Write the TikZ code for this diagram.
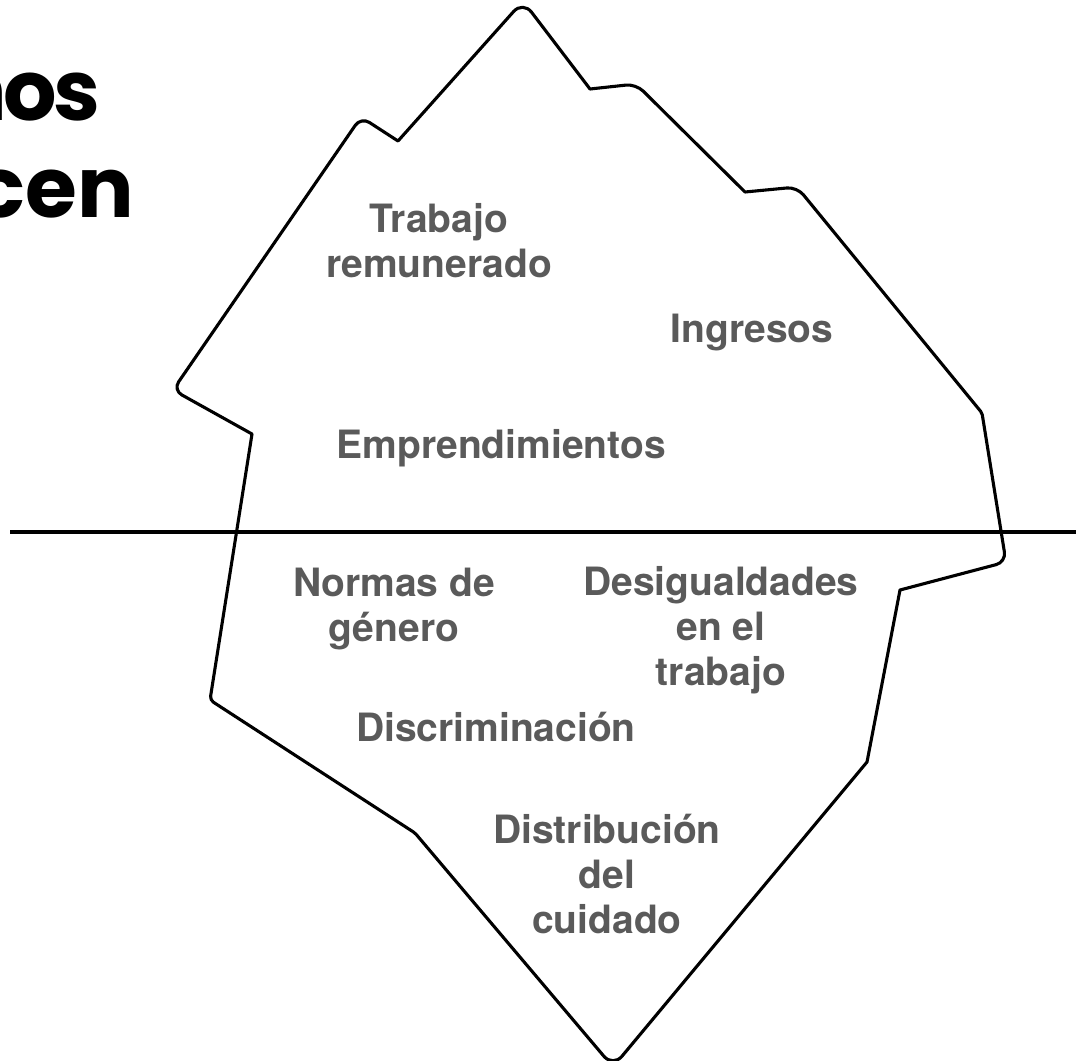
\documentclass[tikz,border=0pt]{standalone}
\usepackage{fontspec}
\setmainfont{TeX Gyre Heros}
\newfontfamily\titlefont{Poppins}
\definecolor{labelgray}{RGB}{90,90,90}
\tikzset{
  lbl/.style={font=\fontsize{39}{45}\selectfont\bfseries, text=labelgray, align=center, inner sep=0pt, anchor=base},
  ttl/.style={font=\titlefont\fontsize{84}{97}\selectfont\bfseries, text=black, inner sep=0pt, anchor=base east},
  berg/.style={draw=black, line width=3.1pt, line join=round},
  water/.style={draw=black, line width=3.3pt}
}
\begin{document}
\begin{tikzpicture}[x=1pt,y=-1pt]
\useasboundingbox (0,0) rectangle (1076,1060);
\clip (0,0) rectangle (1076,1060);
% title (cut off at the left edge)
\node[ttl] (t1) at (101,120) {n\kern-4pt o\kern-3pt s};
\node[ttl] (t2) at (134,217) {cen};
% iceberg outline
\draw[berg] (398,141)
  [rounded corners=14pt] -- (523,1)
  [sharp corners] -- (590,89)
  [rounded corners=10pt] -- (636,84)
  [sharp corners] -- (745,192)
  [rounded corners=10pt] -- (797,187)
  [rounded corners=2pt] -- (982,413)
  [rounded corners=10pt] -- (1006,562)
  [sharp corners] -- (900,590)
  -- (867,762)
  [rounded corners=14pt] -- (613,1067)
  [rounded corners=2pt] -- (415,833)
  [rounded corners=4pt] -- (210,700)
  [sharp corners] -- (252,434)
  [rounded corners=10pt] -- (173,390)
  -- (361,117)
  [sharp corners] -- cycle;
% water line
\coordinate (wl) at (10,532);
\coordinate (wr) at (1076,532);
\draw[water] (wl) -- (wr);
% labels (anchor = baseline of the last line)
\node[lbl] (trab) at (439,277) {Trabajo\\remunerado};
\node[lbl] (ingr) at (752,342) {Ingresos};
\node[lbl] (empr) at (501,458) {Emprendimientos};
\node[lbl] (norm) at (394,641) {Normas de\\género};
\node[lbl] (desi) at (721,685) {Desigualdades\\en el\\trabajo};
\node[lbl] (disc) at (496,741) {Discriminación};
\node[lbl] (dist) at (607,933) {Distribución\\del\\cuidado};
\end{tikzpicture}
\end{document}
